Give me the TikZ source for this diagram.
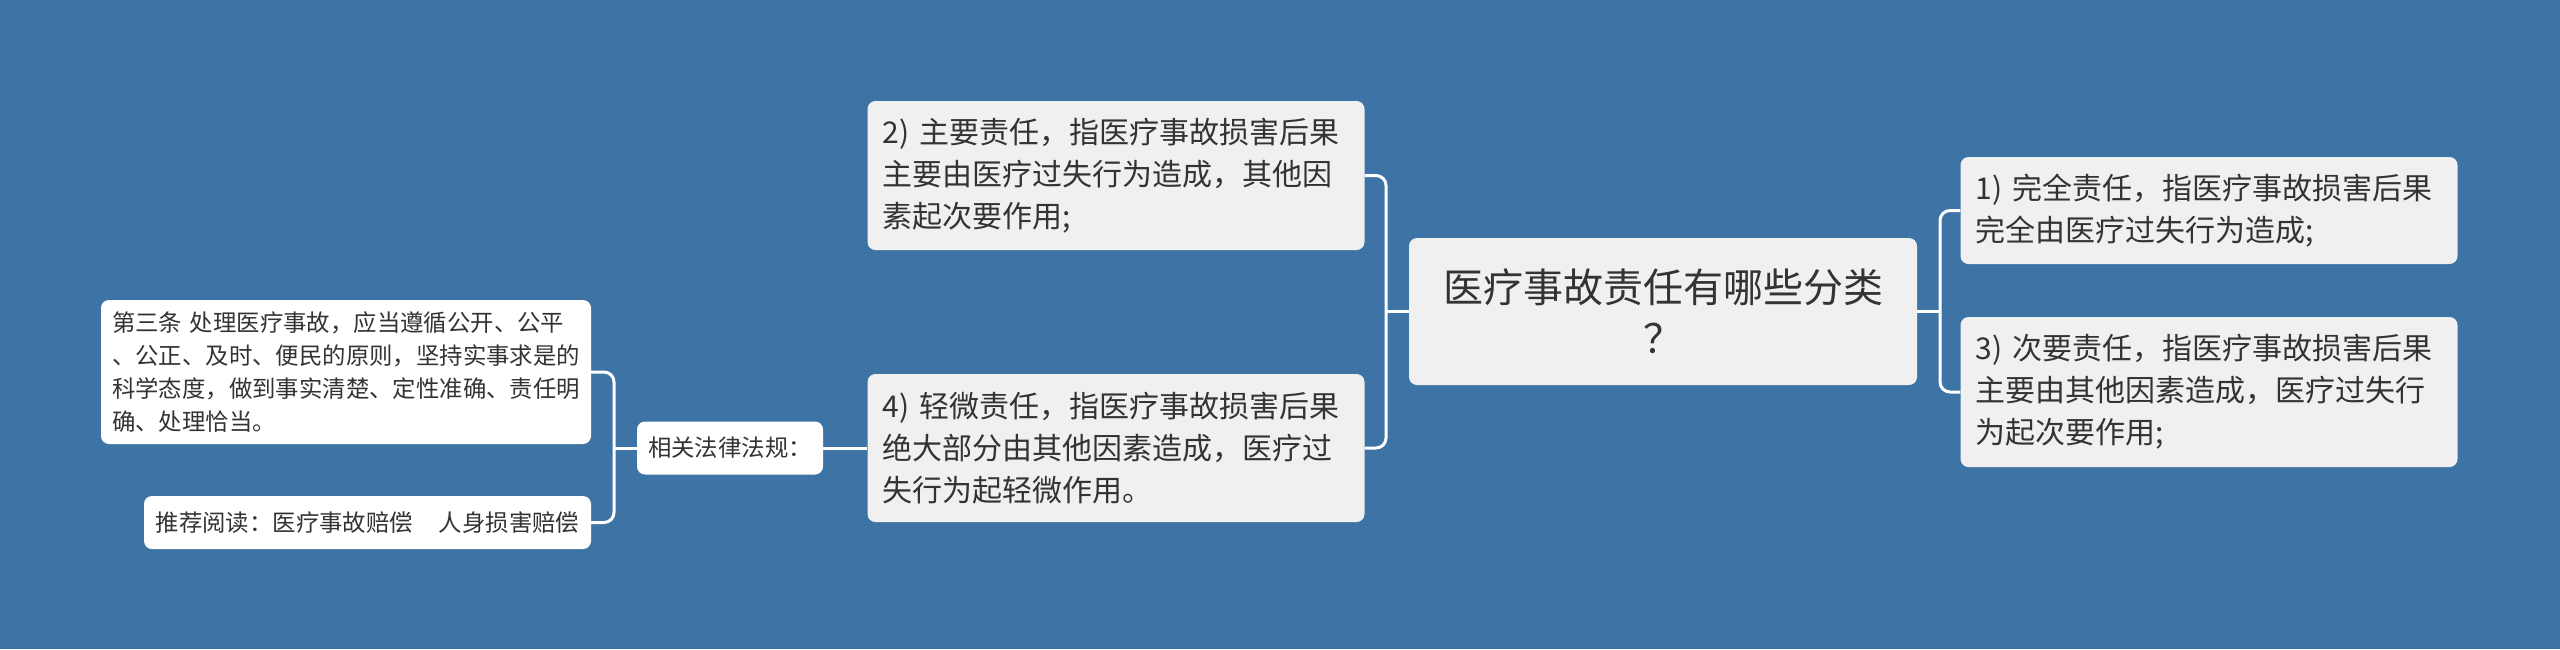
\documentclass[tikz,border=0pt]{standalone}
\usepackage{fontspec}
\setmainfont{Noto Sans CJK SC}
\definecolor{bgc}{HTML}{3E74A5}
\definecolor{boxc}{HTML}{F0F0F0}
\definecolor{txtc}{HTML}{333333}
\begin{document}
\begin{tikzpicture}[x=1pt,y=-1pt,
  box/.style={rectangle, rounded corners=8pt, fill=boxc, text=txtc, inner xsep=15pt, inner ysep=0pt, align=left},
  bigbox/.style={box, font=\fontsize{30pt}{42pt}\selectfont, minimum width=497pt, text width=467pt},
  leafbox/.style={box, fill=white, inner xsep=11pt, font=\fontsize{23.4pt}{33pt}\selectfont},
  conn/.style={draw=white, line width=3pt, rounded corners=10pt}]
\fill[bgc] (0,0) rectangle (2560,649);
\useasboundingbox (0,0) rectangle (2560,649);
% root
\node[box, font=\fontsize{40pt}{51pt}\selectfont, minimum width=508pt, minimum height=147pt, text width=478pt, align=center] (root) at (1663,311.5) {医疗事故责任有哪些分类\\？};
% right children
\node[bigbox, minimum height=107pt] (n1) at (2209,210.5) {1) 完全责任，指医疗事故损害后果\\完全由医疗过失行为造成;};
\node[bigbox, minimum height=150pt] (n3) at (2209,392) {3) 次要责任，指医疗事故损害后果\\主要由其他因素造成，医疗过失行\\为起次要作用;};
% left children
\node[bigbox, minimum height=149pt] (n2) at (1116,175.5) {2) 主要责任，指医疗事故损害后果\\主要由医疗过失行为造成，其他因\\素起次要作用;};
\node[bigbox, minimum height=148pt] (n4) at (1116,448) {4) 轻微责任，指医疗事故损害后果\\绝大部分由其他因素造成，医疗过\\失行为起轻微作用。};
% law
\node[leafbox, minimum width=186pt, minimum height=53pt, text width=164pt] (rel) at (730,448) {相关法律法规：};
\node[leafbox, minimum width=490pt, minimum height=144pt, text width=468pt] (law) at (346,372) {第三条 处理医疗事故，应当遵循公开、公平\\、公正、及时、便民的原则，坚持实事求是的\\科学态度，做到事实清楚、定性准确、责任明\\确、处理恰当。};
\node[leafbox, minimum width=447pt, minimum height=53pt, inner xsep=4pt, align=center] (rec) at (367.5,522.5) {推荐阅读：医疗事故赔偿\hspace{1.1em}人身损害赔偿};
% fork coordinates
\coordinate (forkR) at (1940,311.5);
\coordinate (forkL) at (1386,311.5);
\coordinate (forkLL) at (614,448);
% connectors
\draw[conn] (root.east) -- (forkR);
\draw[conn] (n1.west) -| (forkR) |- (n3.west);
\draw[conn] (root.west) -- (forkL);
\draw[conn] (n2.east) -| (forkL) |- (n4.east);
\draw[conn] (n4.west) -- (rel.east);
\draw[conn] (rel.west) -- (forkLL);
\draw[conn] (law.east) -| (forkLL) |- (rec.east);
\end{tikzpicture}
\end{document}
